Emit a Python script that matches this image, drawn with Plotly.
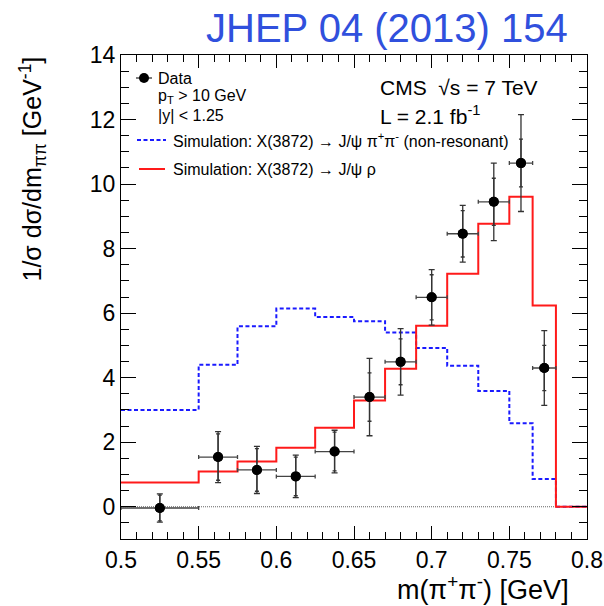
import plotly.graph_objects as go

# Bin edges of the m(pi+pi-) histograms [GeV]
edges = [0.5, 0.55, 0.575, 0.6, 0.625, 0.65, 0.67, 0.69, 0.71, 0.73, 0.75, 0.765, 0.78, 0.8]

# Simulated shapes, normalised
sim_rho = [0.75, 1.09, 1.40, 1.83, 2.45, 3.29, 4.28, 5.61, 7.22, 8.77, 9.61, 6.24, 0.0]
sim_nonres = [3.00, 4.40, 5.59, 6.14, 5.88, 5.75, 5.40, 4.92, 4.37, 3.59, 2.59, 0.86, 0.0]

# Measured data points (one per bin, last bin empty)
data_lo = [0.5, 0.55, 0.575, 0.6, 0.625, 0.65, 0.67, 0.69, 0.71, 0.73, 0.75, 0.765]
data_hi = [0.55, 0.575, 0.6, 0.625, 0.65, 0.67, 0.69, 0.71, 0.73, 0.75, 0.765, 0.78]
data_val = [-0.04, 1.54, 1.14, 0.94, 1.71, 3.40, 4.49, 6.49, 8.46, 9.45, 10.65, 4.30]
data_err_tot = [0.44, 0.79, 0.73, 0.66, 0.66, 1.20, 1.03, 0.86, 0.88, 1.20, 1.50, 1.16]
data_err_stat = [0.40, 0.72, 0.66, 0.60, 0.60, 0.75, 0.71, 0.70, 0.72, 0.73, 0.74, 0.70]

W, H = 604, 606
L, R, T, B = 121, 587, 55, 539


def px(x):
    return (x - L) / (R - L)


def py(y):
    return (B - y) / (B - T)


FONT = "Liberation Sans, Arial, Helvetica, sans-serif"

x_mid = [(a + b) / 2 for a, b in zip(data_lo, data_hi)]
x_half = [(b - a) / 2 for a, b in zip(data_lo, data_hi)]

fig = go.Figure()

# zero reference line
fig.add_trace(go.Scatter(
    x=[edges[0], edges[-1]], y=[0, 0], mode="lines",
    line=dict(color="#666666", width=1.2, dash="1px,1px"), hoverinfo="skip", showlegend=False))

# non-resonant simulation
fig.add_trace(go.Scatter(
    x=edges, y=sim_nonres + [sim_nonres[-1]], mode="lines", line_shape="hv",
    line=dict(color="#1a1aff", width=2, dash="4px,2.5px"), showlegend=False))

# rho simulation
fig.add_trace(go.Scatter(
    x=edges, y=sim_rho + [sim_rho[-1]], mode="lines", line_shape="hv",
    line=dict(color="#ff1a1a", width=2), showlegend=False))

# data: total uncertainty with bin-width bars
fig.add_trace(go.Scatter(
    x=x_mid, y=data_val, mode="markers",
    marker=dict(color="black", size=10),
    error_x=dict(type="data", array=x_half, color="#444444", thickness=1.3, width=2),
    error_y=dict(type="data", array=data_err_tot, color="#333333", thickness=1.3, width=3),
    showlegend=False))

# data: statistical uncertainty marks
fig.add_trace(go.Scatter(
    x=x_mid, y=data_val, mode="markers",
    marker=dict(color="black", size=10),
    error_y=dict(type="data", array=data_err_stat, color="#333333", thickness=1.3, width=2),
    showlegend=False))

axis_common = dict(
    showline=True, linecolor="black", linewidth=1.2, mirror="allticks",
    ticks="inside", tickcolor="black", tickwidth=1.2, showgrid=False, zeroline=False,
    automargin=False,
    tickfont=dict(family=FONT, size=23, color="black"),
)

fig.update_xaxes(
    range=[0.5, 0.8], dtick=0.05, tick0=0.5, ticklen=13,
    minor=dict(dtick=0.01, ticklen=7, ticks="inside", tickcolor="black", tickwidth=1.2, showgrid=False),
    **axis_common)
fig.update_yaxes(
    range=[-1, 14], dtick=2, tick0=0, ticklen=15,
    minor=dict(dtick=0.5, ticklen=8, ticks="inside", tickcolor="black", tickwidth=1.2, showgrid=False),
    **axis_common)

ann = []
# header
ann.append(dict(text="JHEP 04 (2013) 154", x=px(387), y=py(28), xanchor="center", yanchor="middle",
                font=dict(family=FONT, size=40, color="#3050dd")))
# axis titles
ann.append(dict(text="m(π<sup>+</sup>π<sup>-</sup>) [GeV]", x=px(571), y=py(588), xanchor="right",
                yanchor="middle", font=dict(family=FONT, size=27, color="black")))
ann.append(dict(text="1/σ dσ/dm<sub>ππ</sub> [GeV<sup>-1</sup>]", x=px(32), y=py(55), xanchor="center",
                yanchor="top", textangle=-90, font=dict(family=FONT, size=25, color="black")))
# legend texts
leg_font = dict(family=FONT, size=16, color="black")
ann.append(dict(text="Data", x=px(156), y=py(78), xanchor="left", yanchor="middle", font=leg_font))
ann.append(dict(text="p<sub>T</sub> > 10 GeV", x=px(156), y=py(96), xanchor="left", yanchor="middle", font=leg_font))
ann.append(dict(text="|y| < 1.25", x=px(156), y=py(116), xanchor="left", yanchor="middle", font=leg_font))
ann.append(dict(text="Simulation: X(3872) → J/ψ π<sup>+</sup>π<sup>-</sup> (non-resonant)", x=px(171), y=py(140),
                xanchor="left", yanchor="middle", font=leg_font))
ann.append(dict(text="Simulation: X(3872) → J/ψ ρ", x=px(171), y=py(169),
                xanchor="left", yanchor="middle", font=leg_font))
# experiment labels
ann.append(dict(text="CMS  √s = 7 TeV", x=px(378), y=py(87), xanchor="left", yanchor="middle",
                font=dict(family=FONT, size=21, color="black")))
ann.append(dict(text="L = 2.1 fb<sup>-1</sup>", x=px(378), y=py(115), xanchor="left", yanchor="middle",
                font=dict(family=FONT, size=21, color="black")))
for a in ann:
    a.update(xref="paper", yref="paper", showarrow=False)

# legend symbols
shapes = [
    dict(type="line", x0=px(137), x1=px(166), y0=py(140), y1=py(140),
         line=dict(color="#1a1aff", width=2, dash="4px,2.5px")),
    dict(type="line", x0=px(139), x1=px(165), y0=py(169), y1=py(169),
         line=dict(color="#ff1a1a", width=2)),
    dict(type="line", x0=px(136), x1=px(152), y0=py(78), y1=py(78),
         line=dict(color="#333333", width=1.3)),
    dict(type="circle", x0=px(139), x1=px(149), y0=py(83), y1=py(73),
         fillcolor="black", line=dict(color="black", width=0)),
]
for s in shapes:
    s.update(xref="paper", yref="paper")

fig.update_layout(
    width=W, height=H, autosize=False,
    margin=dict(l=L, r=W - R, t=T, b=H - B, pad=0),
    paper_bgcolor="white", plot_bgcolor="white",
    annotations=ann, shapes=shapes, showlegend=False,
)

fig.write_html("out.html")
